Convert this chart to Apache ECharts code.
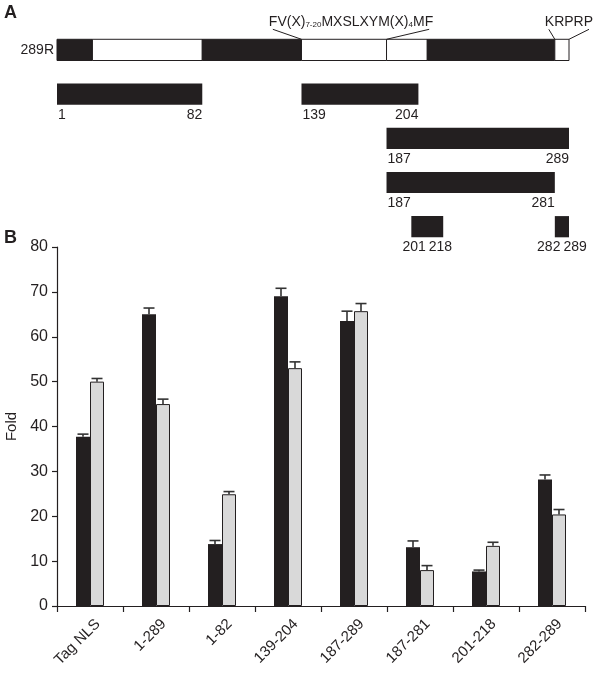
<!DOCTYPE html>
<html>
<head>
<meta charset="utf-8">
<script src="https://cdn.jsdelivr.net/npm/echarts@6/dist/echarts.min.js"></script>
<style>html,body{margin:0;padding:0;background:#fff}#c{width:600px;height:679px}</style>
</head>
<body>
<div id="c"></div>
<script>
// ---------- Panel A data (residue numbers) ----------
const proteinLabel = '289R';
const proteinLength = 289;
const domainBounds = [0, 20, 82, 138, 186, 209, 281, 289];
const domainFilled = [1, 0, 1, 0, 0, 1, 0];
const fragmentStart = [1, 139, 187, 187, 201, 282];
const fragmentEnd = [82, 204, 289, 281, 218, 289];
const fragmentRow = [1, 1, 2, 3, 4, 4];
const motifFrom = [138, 281];
const motifTo = [186, 289];
const motifText = ['{n|FV(X)}{s|7-20}{n|MXSLXYM(X)}{s|4}{n|MF}', '{n|KRPRP}'];

// ---------- Panel B data ----------
const categories = ['Tag NLS', '1-289', '1-82', '139-204', '187-289', '187-281', '201-218', '282-289'];
const darkValues = [37.7, 65.0, 13.8, 69.0, 63.5, 13.1, 7.7, 28.2];
const darkErrors = [0.6, 1.4, 0.8, 1.8, 2.2, 1.4, 0.3, 1.0];
const lightValues = [50.0, 45.0, 24.9, 53.0, 65.7, 8.0, 13.4, 20.4];
const lightErrors = [0.7, 1.1, 0.6, 1.4, 1.7, 1.0, 0.8, 1.1];
const yMin = 0, yMax = 80, yStep = 10;

// ---------- styles ----------
const INK = '#231f20';
const LIGHT = '#d9d9d9';
const FONT = 'Liberation Sans';
const BAR_FRAC = 0.48;
const BAR_W = 14;
const NORM = 14, SUB = 8;

function txt(str, x, y, align, vAlign, size) {
  return {
    type: 'text',
    style: {
      text: str, x: x, y: y,
      align: align, textAlign: align,
      verticalAlign: vAlign, textVerticalAlign: vAlign,
      fontSize: size, fontFamily: FONT, font: size + 'px "' + FONT + '"',
      fill: INK
    }
  };
}

const measureCtx = document.createElement('canvas').getContext('2d');
function measureRich(str) {
  let w = 0;
  str.replace(/\{(\w+)\|([^}]*)\}/g, function (m, k, t) {
    measureCtx.font = (k === 's' ? SUB : NORM) + 'px "' + FONT + '"';
    w += measureCtx.measureText(t).width;
    return m;
  });
  return w;
}

function renderDomain(params, api) {
  const s = api.value(0), e = api.value(1), row = api.value(2), filled = api.value(3);
  const p0 = api.coord([s, row]), p1 = api.coord([e, row]);
  const h = api.size([0, 1])[1] * BAR_FRAC;
  const children = [{
    type: 'rect',
    shape: { x: p0[0], y: p0[1] - h / 2, width: p1[0] - p0[0], height: h },
    style: { fill: filled ? INK : '#ffffff', stroke: INK, lineWidth: 1 }
  }];
  if (params.dataIndex === 0) {
    children.push(txt(proteinLabel, p0[0] - 3, p0[1], 'right', 'middle', 14));
  }
  return { type: 'group', children: children };
}

function renderFragment(params, api) {
  const sRes = api.value(0), eRes = api.value(1), row = api.value(2);
  const p0 = api.coord([sRes - 1, row]), p1 = api.coord([eRes, row]);
  const h = api.size([0, 1])[1] * BAR_FRAC;
  const top = p0[1] - h / 2, bottom = p0[1] + h / 2;
  const w = p1[0] - p0[0];
  const short = w < 40;
  const mid = (p0[0] + p1[0]) / 2;
  const ly = bottom + 3;
  return {
    type: 'group',
    children: [
      { type: 'rect', shape: { x: p0[0], y: top, width: w, height: h }, style: { fill: INK } },
      txt(String(sRes), short ? mid - 1.5 : p0[0] + 1, ly, short ? 'right' : 'left', 'top', 14),
      txt(String(eRes), short ? mid + 1.5 : p1[0], ly, short ? 'left' : 'right', 'top', 14)
    ]
  };
}

function renderMotif(params, api) {
  const a = api.coord([api.value(0), 0]), b = api.coord([api.value(1), 0]);
  const h = api.size([0, 1])[1] * BAR_FRAC;
  const barTop = a[1] - h / 2;
  const gridTop = api.coord([0, -0.5])[1];
  const label = motifText[params.dataIndex];
  const w = measureRich(label);
  const cx = (a[0] + b[0]) / 2 + 7;
  const ty = gridTop - 6;
  const lineY = gridTop + 1.5;
  return {
    type: 'group',
    children: [
      {
        type: 'text',
        style: {
          text: label, x: cx, y: ty,
          align: 'center', textAlign: 'center',
          verticalAlign: 'middle', textVerticalAlign: 'middle',
          fill: INK,
          rich: {
            n: { fontSize: NORM, fontFamily: FONT, fill: INK, color: INK },
            s: { fontSize: SUB, fontFamily: FONT, fill: INK, color: INK, verticalAlign: 'bottom' }
          }
        }
      },
      { type: 'line', shape: { x1: cx - w / 2 + 4, y1: lineY, x2: a[0], y2: barTop }, style: { stroke: INK, lineWidth: 1 } },
      { type: 'line', shape: { x1: cx + w / 2 - 4, y1: lineY, x2: b[0], y2: barTop }, style: { stroke: INK, lineWidth: 1 } }
    ]
  };
}

function makeErrorRender(side) {
  return function (params, api) {
    const i = api.value(0), v = api.value(1), e = api.value(2);
    const base = api.coord([i, v]);
    const top = api.coord([i, v + e]);
    const x = base[0] + side * BAR_W / 2;
    const st = { stroke: '#333333', lineWidth: 1.6 };
    return {
      type: 'group',
      children: [
        { type: 'line', shape: { x1: x, y1: base[1], x2: x, y2: top[1] }, style: st },
        { type: 'line', shape: { x1: x - 5.5, y1: top[1], x2: x + 5.5, y2: top[1] }, style: st }
      ]
    };
  };
}

const domainData = domainFilled.map(function (f, i) { return [domainBounds[i], domainBounds[i + 1], 0, f]; });
const fragmentData = fragmentStart.map(function (s, i) { return [s, fragmentEnd[i], fragmentRow[i]]; });
const motifData = motifFrom.map(function (f, i) { return [f, motifTo[i]]; });
const darkErrData = categories.map(function (c, i) { return [i, darkValues[i], darkErrors[i]]; });
const lightErrData = categories.map(function (c, i) { return [i, lightValues[i], lightErrors[i]]; });

const chart = echarts.init(document.getElementById('c'), null, { renderer: 'canvas' });
const titleStyle = { fontSize: 18, fontWeight: 'bold', fontFamily: FONT, color: INK };
chart.setOption({
  animation: false,
  backgroundColor: '#ffffff',
  title: [
    { text: 'A', left: 4, top: 4, padding: 0, textStyle: titleStyle },
    { text: 'B', left: 4, top: 229, padding: 0, textStyle: titleStyle }
  ],
  grid: [
    { left: 57, top: 27.8, width: 512, height: 221, containLabel: false, outerBoundsMode: 'none' },
    { left: 57, top: 247, width: 528, height: 359, containLabel: false, outerBoundsMode: 'none' }
  ],
  xAxis: [
    { gridIndex: 0, type: 'value', min: 0, max: proteinLength, show: false },
    {
      gridIndex: 1, type: 'category', data: categories, boundaryGap: true,
      axisLine: { show: true, lineStyle: { color: INK, width: 1.2 } },
      axisTick: { show: true, alignWithLabel: false, length: 6, lineStyle: { color: INK, width: 1.2 } },
      axisLabel: {
        interval: 0, rotate: 45, margin: 8, fontSize: 15, fontFamily: FONT, color: INK,
        hideOverlap: false, verticalAlign: 'top', lineHeight: 22
      }
    }
  ],
  yAxis: [
    { gridIndex: 0, type: 'value', min: -0.5, max: 4.5, inverse: true, show: false },
    {
      gridIndex: 1, type: 'value', min: yMin, max: yMax, interval: yStep,
      name: 'Fold', nameLocation: 'middle', nameGap: 36, nameRotate: 90,
      nameTextStyle: { fontSize: 15, fontFamily: FONT, color: INK },
      axisLine: { show: true, lineStyle: { color: INK, width: 1.2 } },
      axisTick: { show: true, length: 5, lineStyle: { color: INK, width: 1.2 } },
      axisLabel: { fontSize: 16, fontFamily: FONT, color: INK, margin: 9 },
      splitLine: { show: false }
    }
  ],
  series: [
    { type: 'custom', xAxisIndex: 0, yAxisIndex: 0, renderItem: renderDomain, data: domainData, encode: { x: [0, 1], y: 2 }, clip: false, silent: true },
    { type: 'custom', xAxisIndex: 0, yAxisIndex: 0, renderItem: renderFragment, data: fragmentData, encode: { x: [0, 1], y: 2 }, clip: false, silent: true },
    { type: 'custom', xAxisIndex: 0, yAxisIndex: 0, renderItem: renderMotif, data: motifData, encode: { x: [0, 1] }, clip: false, silent: true },
    {
      name: 'dark', type: 'bar', xAxisIndex: 1, yAxisIndex: 1, data: darkValues,
      barWidth: BAR_W, barGap: '0%', itemStyle: { color: INK }
    },
    {
      name: 'light', type: 'bar', xAxisIndex: 1, yAxisIndex: 1, data: lightValues,
      barWidth: BAR_W, barGap: '0%', itemStyle: { color: LIGHT, borderColor: INK, borderWidth: 1 }
    },
    { type: 'custom', xAxisIndex: 1, yAxisIndex: 1, renderItem: makeErrorRender(-1), data: darkErrData, encode: { x: 0, y: 1 }, clip: false, silent: true, z: 3 },
    { type: 'custom', xAxisIndex: 1, yAxisIndex: 1, renderItem: makeErrorRender(1), data: lightErrData, encode: { x: 0, y: 1 }, clip: false, silent: true, z: 3 }
  ]
});
</script>
</body>
</html>
